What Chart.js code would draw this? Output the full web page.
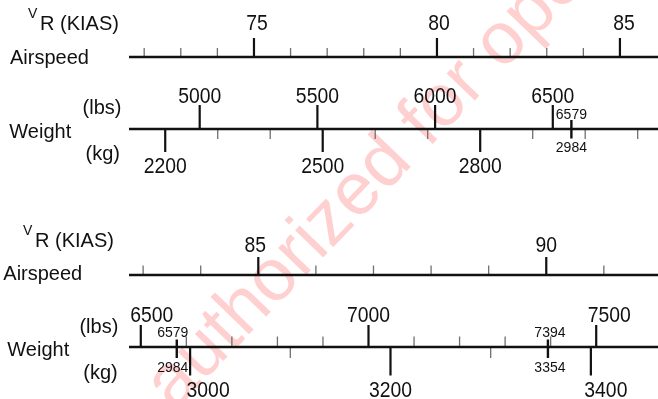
<!DOCTYPE html>
<html>
<head>
<meta charset="utf-8">
<title>Rotation speed (VR) vs weight</title>
<script src="https://cdn.jsdelivr.net/npm/chart.js@4.4.1/dist/chart.umd.min.js"></script>
<style>
  html, body { margin: 0; padding: 0; background: #fff; }
  canvas { display: block; }
</style>
</head>
<body>
<canvas id="vr-chart" width="658" height="399"></canvas>
<script>
// Upper scale pair
const airUpperMajor = [75, 80, 85];
const airUpperMinor = [72, 73, 74, 76, 77, 78, 79, 81, 82, 83, 84];
const lbsUpperMajor = [5000, 5500, 6000, 6500];
const kgUpperMajor = [2200, 2500, 2800];
const kgUpperMinor = [2300, 2400, 2600, 2700, 2900, 3000, 3100];
const markUpperLbs = [6579];
const markUpperKg = [2984];

// Lower scale pair
const airLowerMajor = [85, 90];
const airLowerMinor = [83, 84, 86, 87, 88, 89, 91];
const lbsLowerMajor = [6500, 7000, 7500];
const lbsLowerMinor = [6600, 6700, 6800, 6900, 7100, 7200, 7300, 7400];
const kgLowerMajor = [3000, 3200, 3400];
const kgLowerMinor = [3100, 3300];
const markLowerLbs = [6579, 7394];
const markLowerKg = [2984, 3354];

const watermarkText = 'authorized for operational use';

(function () {
  const INK = '#111111';
  const MINOR = '#707070';
  const FONT = '"Liberation Sans", Arial, Helvetica, sans-serif';

  // visible span of each strip (the printed scales are not perfectly proportional,
  // so lbs and kg each get their own axis)
  const ranges = {
    air1: [71.585, 86.04],
    lbs1: [4699.7, 6946.9],
    kg1: [2131.0, 3138.7],
    air2: [82.755, 91.94],
    lbs2: [6474.1, 7635.7],
    kg2: [2939.0, 3467.0],
  };

  // baselines of the four strips, in canvas rows
  const row = { air1: 57, w1: 129, air2: 275, w2: 347 };

  function segs(values, top, bottom) {
    const pts = [];
    values.forEach((v) => {
      pts.push({ x: v, y: top }, { x: v, y: bottom }, { x: v, y: null });
    });
    return pts;
  }

  function rule(axis, y) {
    return [{ x: ranges[axis][0], y }, { x: ranges[axis][1], y }];
  }

  function set(data, axis, width, color) {
    return {
      data,
      xAxisID: axis,
      yAxisID: 'row',
      borderColor: color,
      borderWidth: width,
      borderCapStyle: 'butt',
      pointRadius: 0,
      spanGaps: false,
      tension: 0,
      fill: false,
    };
  }

  const datasets = [
    // upper airspeed
    set(rule('air1', row.air1), 'air1', 2.3, INK),
    set(segs(airUpperMajor, row.air1 - 19, row.air1), 'air1', 2.2, INK),
    set(segs(airUpperMinor, row.air1 - 9, row.air1), 'air1', 1.3, MINOR),
    // upper weight
    set(rule('lbs1', row.w1), 'lbs1', 2.3, INK),
    set(segs(lbsUpperMajor, row.w1 - 24, row.w1), 'lbs1', 2.2, INK),
    set(segs(kgUpperMajor, row.w1, row.w1 + 23), 'kg1', 2.2, INK),
    set(segs(kgUpperMinor, row.w1, row.w1 + 10), 'kg1', 1.3, MINOR),
    set(segs(markUpperLbs, row.w1 - 9, row.w1 + 9.5), 'lbs1', 2.4, INK),
    // lower airspeed
    set(rule('air2', row.air2), 'air2', 2.3, INK),
    set(segs(airLowerMajor, row.air2 - 18, row.air2), 'air2', 2.2, INK),
    set(segs(airLowerMinor, row.air2 - 9.5, row.air2), 'air2', 1.3, MINOR),
    // lower weight
    set(rule('lbs2', row.w2), 'lbs2', 2.3, INK),
    set(segs(lbsLowerMajor, row.w2 - 22, row.w2), 'lbs2', 2.2, INK),
    set(segs(lbsLowerMinor, row.w2 - 10.5, row.w2), 'lbs2', 1.3, MINOR),
    set(segs(kgLowerMajor, row.w2, row.w2 + 28.5), 'kg2', 2.2, INK),
    set(segs(kgLowerMinor, row.w2, row.w2 + 11), 'kg2', 1.3, MINOR),
    set(segs(markLowerLbs, row.w2 - 7.5, row.w2 + 11), 'lbs2', 2.4, INK),
  ];

  function xScale(axis) {
    return { type: 'linear', axis: 'x', display: false, min: ranges[axis][0], max: ranges[axis][1] };
  }

  // a few printed numbers sit off-centre from their tick
  const nudge = {
    lbs2: { 6500: 11, 7500: 13 },
    kg2: { 3000: 18, 3400: 15 },
    air1: { 75: 3, 80: 2, 85: 4 },
    air2: { 85: -3 },
    m2: { 6579: -4, 7394: 2 },
  };

  // the printed digits are a narrow grotesque, so squeeze them a little
  function squeezed(ctx, text, x, y, sx) {
    ctx.save();
    ctx.translate(x, y);
    ctx.scale(sx, 1);
    ctx.fillText(text, 0, 0);
    ctx.restore();
  }

  function numbers(ctx, scale, axis, values, y, sx, shownValues) {
    values.forEach((v, i) => {
      const shift = (nudge[axis] && nudge[axis][v]) || 0;
      const label = String(shownValues ? shownValues[i] : v);
      squeezed(ctx, label, scale.getPixelForValue(v) + shift, y, sx);
    });
  }

  const watermark = {
    id: 'watermark',
    beforeDatasetsDraw(chart) {
      const ctx = chart.ctx;
      ctx.save();
      ctx.translate(174, 412);
      ctx.rotate(-46 * Math.PI / 180);
      ctx.font = '74px ' + FONT;
      ctx.fillStyle = 'rgba(255, 40, 40, 0.22)';
      ctx.textAlign = 'left';
      ctx.textBaseline = 'alphabetic';
      ctx.fillText(watermarkText, 0, 0);
      ctx.restore();
    },
  };

  const texts = {
    id: 'texts',
    afterDatasetsDraw(chart) {
      const ctx = chart.ctx;
      const s = chart.scales;
      ctx.save();
      ctx.fillStyle = INK;
      ctx.textBaseline = 'alphabetic';

      // scale numbers
      ctx.textAlign = 'center';
      ctx.font = '22px ' + FONT;
      numbers(ctx, s.air1, 'air1', airUpperMajor, 29.5, 0.88);
      numbers(ctx, s.lbs1, 'lbs1', lbsUpperMajor, 102.5, 0.88);
      numbers(ctx, s.kg1, 'kg1', kgUpperMajor, 172.5, 0.88);
      numbers(ctx, s.air2, 'air2', airLowerMajor, 251.5, 0.88);
      numbers(ctx, s.lbs2, 'lbs2', lbsLowerMajor, 321.5, 0.88);
      numbers(ctx, s.kg2, 'kg2', kgLowerMajor, 396.5, 0.88);

      // marked weights, lbs above and kg below the same tick
      ctx.font = '14px ' + FONT;
      numbers(ctx, s.lbs1, 'm1', markUpperLbs, 118.5, 1);
      numbers(ctx, s.lbs1, 'm1', markUpperLbs, 152, 1, markUpperKg);
      numbers(ctx, s.lbs2, 'm2', markLowerLbs, 337, 1);
      numbers(ctx, s.lbs2, 'm2', markLowerLbs, 372, 1, markLowerKg);

      // row titles
      ctx.textAlign = 'left';
      [[0, 0], [-5, 217]].forEach(([dx, dy]) => {
        ctx.font = '14px ' + FONT;
        ctx.fillText('V', 28 + dx, 18.3 + dy);
        ctx.font = '20px ' + FONT;
        ctx.fillText('R (KIAS)', 40 + dx, 29.5 + dy);
      });
      ctx.fillText('Airspeed', 10, 64.3);
      ctx.fillText('Weight', 9.3, 138.3);
      ctx.fillText('Airspeed', 3.3, 280);
      ctx.fillText('Weight', 7.3, 356);
      ctx.textAlign = 'right';
      ctx.fillText('(lbs)', 121.5, 113.5);
      ctx.fillText('(kg)', 120, 160);
      ctx.fillText('(lbs)', 118.3, 333);
      ctx.fillText('(kg)', 117.7, 378.5);
      ctx.restore();
    },
  };

  new Chart(document.getElementById('vr-chart'), {
    type: 'line',
    data: { datasets },
    options: {
      responsive: false,
      animation: false,
      events: [],
      layout: { padding: { left: 129, right: 0, top: 0, bottom: 0 } },
      plugins: { legend: { display: false }, tooltip: { enabled: false } },
      scales: {
        row: { type: 'linear', axis: 'y', display: false, min: 0, max: 399, reverse: true },
        air1: xScale('air1'),
        lbs1: xScale('lbs1'),
        kg1: xScale('kg1'),
        air2: xScale('air2'),
        lbs2: xScale('lbs2'),
        kg2: xScale('kg2'),
      },
    },
    plugins: [watermark, texts],
  });
})();
</script>
</body>
</html>
